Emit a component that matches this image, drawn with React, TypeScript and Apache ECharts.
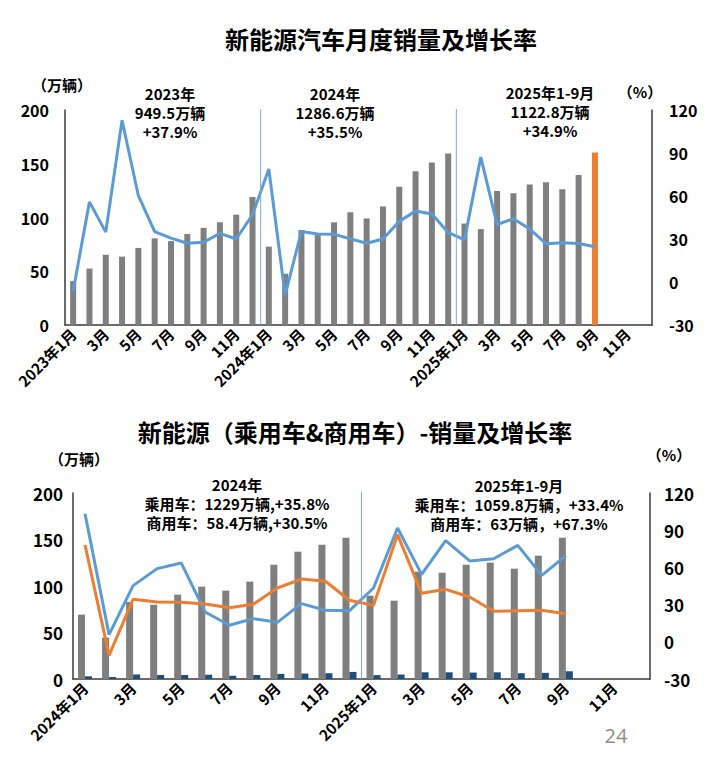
import React, { useEffect, useRef } from "react";
import * as echarts from "echarts";

// ---------- data ----------
const topYears = ["2023", "2024", "2025"];
const bottomYears = ["2024", "2025"];
const monthNums = [1, 2, 3, 4, 5, 6, 7, 8, 9, 10, 11, 12];

const sales2023 = [40.8, 52.5, 65.3, 63.6, 71.7, 80.6, 78.0, 84.6, 90.4, 95.6, 102.6, 119.1];
const sales2024 = [72.9, 47.7, 88.3, 85.0, 95.5, 104.9, 99.1, 110.3, 128.7, 143.0, 151.2, 159.6];
const sales2025 = [94.4, 89.2, 124.7, 122.6, 130.7, 132.9, 126.2, 139.5, 160.4];

const growth2023 = [-6.3, 55.9, 34.8, 112.8, 60.2, 35.2, 30.6, 27.0, 27.7, 33.9, 30.0, 46.9];
const growth2024 = [78.8, -9.2, 35.3, 33.5, 33.3, 30.1, 27.0, 30.0, 42.3, 49.6, 47.4, 34.6];
const growth2025 = [29.4, 87.1, 40.1, 44.2, 36.9, 26.7, 27.4, 26.8, 24.6];

const pv2024 = [69.2, 44.5, 82.8, 79.9, 90.7, 99.3, 95.0, 104.7, 122.9, 136.9, 144.4, 152.0];
const pv2025 = [89.6, 84.2, 115.4, 114.3, 122.9, 125.1, 118.6, 132.6, 152.0];
const cv2024 = [2.9, 2.1, 4.9, 4.3, 4.3, 4.6, 3.5, 4.3, 5.5, 5.9, 6.2, 7.6];
const cv2025 = [4.2, 4.8, 7.2, 7.2, 6.9, 7.2, 6.2, 6.6, 8.3];

const pvGrowth2024 = [78.1, -10.9, 34.3, 32.1, 31.8, 30.5, 27.5, 30.2, 43.4, 50.6, 48.8, 33.5];
const pvGrowth2025 = [29.4, 86.4, 39.1, 42.3, 36.1, 24.6, 25.1, 25.4, 22.7];
const cvGrowth2024 = [103.3, 5.8, 45.3, 59.0, 63.6, 24.0, 13.3, 18.7, 15.7, 30.8, 25.4, 25.1];
const cvGrowth2025 = [43.4, 91.8, 54.4, 81.6, 65.2, 67.0, 77.8, 53.6, 69.5];

const leftTicks = { min: 0, max: 200, interval: 50 };
const rightTicks = { min: -30, max: 120, interval: 30 };

const topTitle = "新能源汽车月度销量及增长率";
const bottomTitle = "新能源（乘用车&商用车）-销量及增长率";
const topNotes = [
  ["2023年", "949.5万辆", "+37.9%"],
  ["2024年", "1286.6万辆", "+35.5%"],
  ["2025年1-9月", "1122.8万辆", "+34.9%"],
];
const bottomNotes = [
  ["2024年", "乘用车：1229万辆,+35.8%", "商用车：58.4万辆,+30.5%"],
  ["2025年1-9月", "乘用车：1059.8万辆，+33.4%", "商用车：63万辆，+67.3%"],
];

// ---------- helpers ----------
const FONT = '"Noto Sans CJK SC", "Noto Sans", sans-serif';
const buildCats = (years: string[]) =>
  years.flatMap((y) => monthNums.map((m) => `${y}年${m}月`));
const pad = (arr: number[], len: number) => {
  const out: (number | null)[] = arr.slice();
  while (out.length < len) out.push(null);
  return out;
};
const labelFmt = (v: string) => (v.indexOf("年1月") > 0 ? v : v.split("年")[1]);

export default function App() {
  const ref = useRef<HTMLDivElement>(null);
  useEffect(() => {
    if (!ref.current) return;
    const chart = echarts.init(ref.current, null, { renderer: "svg" });
    const topCats = buildCats(topYears);
    const botCats = buildCats(bottomYears);
    const topSales = pad([...sales2023, ...sales2024, ...sales2025], topCats.length);
    const lastIdx = sales2023.length + sales2024.length + sales2025.length - 1;
    const topBarData = topSales.map((v, i) =>
      i === lastIdx ? { value: v, itemStyle: { color: "#ed7d31" } } : v
    );
    const topGrowth = pad([...growth2023, ...growth2024, ...growth2025], topCats.length);
    const pvData = pad([...pv2024, ...pv2025], botCats.length);
    const cvData = pad([...cv2024, ...cv2025], botCats.length);
    const pvG = pad([...pvGrowth2024, ...pvGrowth2025], botCats.length);
    const cvG = pad([...cvGrowth2024, ...cvGrowth2025], botCats.length);

    const axisLine = { show: true, lineStyle: { color: "#3a3a3a", width: 1.5 } };
    const xAxisCommon = (data: string[], gridIndex: number) => ({
      type: "category",
      gridIndex,
      data,
      boundaryGap: true,
      axisLine,
      axisTick: { show: false },
      axisLabel: {
        interval: 1,
        rotate: 45,
        margin: 6,
        color: "#000",
        fontWeight: "bold",
        fontSize: 15,
        fontFamily: FONT,
        formatter: labelFmt,
      },
    });
    const yAxisCommon = (gridIndex: number, ticks: any, pos: string, size: number, margin: number) => ({
      type: "value",
      gridIndex,
      position: pos,
      min: ticks.min,
      max: ticks.max,
      interval: ticks.interval,
      axisLine,
      axisTick: { show: false },
      splitLine: { show: false },
      axisLabel: { color: "#000", fontWeight: "bold", fontSize: size, fontFamily: FONT, margin },
    });

    chart.setOption({
      animation: false,
      backgroundColor: "#fff",
      grid: [
        { left: 65, top: 110, width: 587, height: 215 },
        { left: 73, top: 493, width: 577, height: 186 },
      ],
      xAxis: [xAxisCommon(topCats, 0), xAxisCommon(botCats, 1)],
      yAxis: [
        yAxisCommon(0, leftTicks, "left", 16, 16),
        yAxisCommon(0, rightTicks, "right", 16, 17),
        yAxisCommon(1, leftTicks, "left", 17, 10),
        yAxisCommon(1, rightTicks, "right", 17, 14),
      ],
      series: [
        {
          type: "bar",
          xAxisIndex: 0,
          yAxisIndex: 0,
          data: topBarData,
          barWidth: 6,
          itemStyle: { color: "#7f7f7f" },
        },
        {
          type: "line",
          xAxisIndex: 0,
          yAxisIndex: 1,
          data: topGrowth,
          symbol: "none",
          lineStyle: { color: "#5b9bd5", width: 3 },
          z: 3,
        },
        {
          type: "bar",
          xAxisIndex: 1,
          yAxisIndex: 2,
          data: pvData,
          barWidth: 7,
          barGap: "0%",
          itemStyle: { color: "#7f7f7f" },
        },
        {
          type: "bar",
          xAxisIndex: 1,
          yAxisIndex: 2,
          data: cvData,
          barWidth: 7,
          barGap: "0%",
          itemStyle: { color: "#1f4e79" },
        },
        {
          type: "line",
          xAxisIndex: 1,
          yAxisIndex: 3,
          data: cvG,
          symbol: "none",
          lineStyle: { color: "#5b9bd5", width: 3 },
          z: 3,
        },
        {
          type: "line",
          xAxisIndex: 1,
          yAxisIndex: 3,
          data: pvG,
          symbol: "none",
          lineStyle: { color: "#ed7d31", width: 3 },
          z: 3,
        },
      ],
    });

    // separators between years, from library coordinates
    const sep = (xIdx: number, yIdx: number, i: number) => {
      const a = chart.convertToPixel({ xAxisIndex: xIdx }, i - 1) as number;
      const b = chart.convertToPixel({ xAxisIndex: xIdx }, i) as number;
      const yTop = chart.convertToPixel({ yAxisIndex: yIdx }, leftTicks.max) as number;
      const yBot = chart.convertToPixel({ yAxisIndex: yIdx }, leftTicks.min) as number;
      const x = (a + b) / 2;
      return {
        type: "line",
        shape: { x1: x, y1: yTop - 1, x2: x, y2: yBot },
        style: { stroke: "#7fa9d6", lineWidth: 1 },
        z: 10,
      };
    };
    const txt = (text: string, x: number, y: number, size: number, extra: any = {}) => ({
      type: "text",
      x,
      y,
      style: {
        text,
        fontSize: size,
        fontWeight: "bold",
        fontFamily: FONT,
        fill: "#000",
        align: "center",
        verticalAlign: "middle",
        ...extra,
      },
      z: 20,
    });
    // stacked lines of a note, each its own text element
    const note = (lines: string[], cx: number, y0: number) =>
      lines.map((l, k) => txt(l, cx, y0 + k * 19, 15));

    chart.setOption({
      graphic: [
        sep(0, 0, 12),
        sep(0, 0, 24),
        sep(1, 2, 12),
        txt(topTitle, 381, 38, 24),
        txt(bottomTitle, 355, 431, 24),
        txt("（万辆）", 62, 84, 15),
        txt("（%）", 640, 91, 15),
        txt("（万辆）", 79, 458, 15),
        txt("（%）", 669, 454, 15),
        ...note(topNotes[0], 170, 93),
        ...note(topNotes[1], 335, 93),
        ...note(topNotes[2], 550, 92),
        ...note(bottomNotes[0], 237, 484),
        ...note(bottomNotes[1], 519, 485),
        txt("24", 616, 735, 20, { fontWeight: "normal", fill: "#8c8c8c", fontFamily: '"Open Sans", sans-serif' }),
      ],
    });

    return () => chart.dispose();
  }, []);
  return (
    <div
      ref={ref}
      style={{ position: "absolute", left: 0, top: 0, width: 717, height: 775, background: "#fff" }}
    />
  );
}
